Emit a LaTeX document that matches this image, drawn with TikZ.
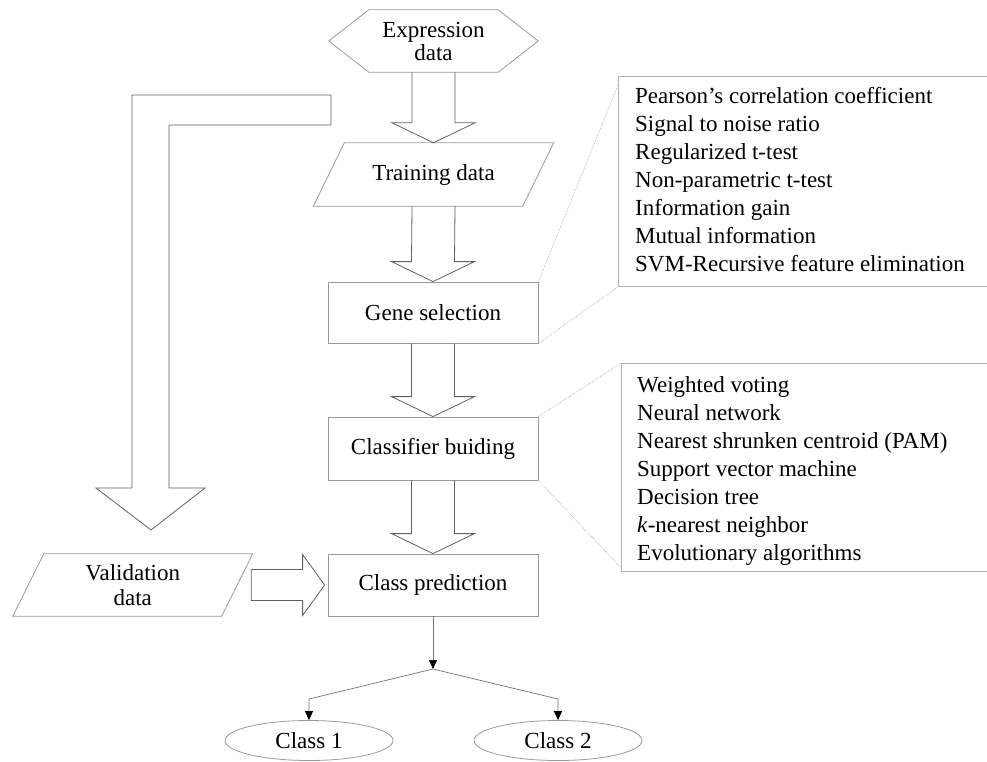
\documentclass[tikz,border=0pt]{standalone}
\usepackage{fontspec}
\setmainfont{Liberation Serif}
\usetikzlibrary{arrows.meta,calc,shapes.geometric}
\newcommand\blockdown[2]{%
  \draw[barrow] ($(#1)+(-21.5,0)$) -- ($(#2)+(-21.5,-20)$) -- ($(#2)+(-41.5,-20)$) -- (#2)
    -- ($(#2)+(41.5,-20)$) -- ($(#2)+(21.5,-20)$) -- ($(#1)+(21.5,0)$);}
\newcommand\blockright[2]{%
  \draw[barrow] ($(#1)+(0,-15.5)$) -- ($(#2)+(-22,-15.5)$) -- ($(#2)+(-22,-30.5)$) -- (#2)
    -- ($(#2)+(-22,30.5)$) -- ($(#2)+(-22,15.5)$) -- ($(#1)+(0,15.5)$) -- cycle;}
\newcommand\paraoutline[1]{%
  \draw[outline] ($(#1.south west)+(-15.5,0)$) -- ($(#1.north west)+(15.5,0)$)
    -- ($(#1.north east)+(15.5,0)$) -- ($(#1.south east)+(-15.5,0)$) -- cycle;}
\begin{document}
\begin{tikzpicture}[x=1pt,y=-1pt,
  font=\fontsize{23}{28}\selectfont,
  outline/.style={draw=black!40,line width=0.8pt},
  barrow/.style={draw=black!62,line width=0.8pt,line join=miter},
  shapebox/.style={inner sep=0pt,align=center,minimum width=209pt,minimum height=62pt},
  stepbox/.style={outline,rectangle,inner sep=0pt,minimum width=210pt,minimum height=62pt},
  methodbox/.style={draw=black!30,line width=0.8pt,rectangle,anchor=north west,inner sep=0pt},
  methods/.style={inner sep=0pt,align=left,anchor=north west},
  link/.style={draw=black!35,densely dotted,line width=0.6pt},
  flow/.style={draw=black!55,line width=0.7pt,-{Triangle[width=8pt,length=9pt,color=black,fill=black]}},
  classnode/.style={outline,ellipse,minimum width=168pt,minimum height=40pt,inner sep=0pt}
]
\useasboundingbox (0,0) rectangle (987,761);
\clip (0,0) rectangle (987,761);

% Expression data (hexagon)
\node[shapebox,font=\fontsize{23}{23}\selectfont] (exp) at (433.5,41) {Expression\\data};
\draw[outline] (exp.west) -- ($(exp.north west)+(40,0)$) -- ($(exp.north east)+(-40,0)$)
  -- (exp.east) -- ($(exp.south east)+(-40,0)$) -- ($(exp.south west)+(40,0)$) -- cycle;

% Training data (parallelogram)
\node[shapebox,minimum height=63pt] (train) at (433.5,174.5) {Training data};
\paraoutline{train}

% Process boxes
\node[stepbox,minimum height=61pt] (gene) at (433,312.5) {Gene selection};
\node[stepbox,minimum height=63pt] (cls) at (433,448.5) {Classifier buiding};
\node[stepbox] (pred) at (433,585) {Class prediction};

% Validation data (parallelogram)
\node[shapebox,font=\fontsize{23}{25}\selectfont,minimum width=208.5pt] (val) at (132.75,585) {Validation\\data};
\paraoutline{val}

% Class ellipses
\node[classnode] (c1) at (309,740.5) {Class 1};
\node[classnode] (c2) at (558,740.5) {Class 2};

% Method boxes
\node[methodbox,minimum width=420pt,minimum height=210pt] (m1) at (618,76) {};
\node[methods] (m1t) at (635,87.3) {Pearson's correlation coefficient\\
Signal to noise ratio\\
Regularized t-test\\
Non-parametric t-test\\
Information gain\\
Mutual information\\
SVM-Recursive feature elimination};
\node[methodbox,minimum width=420pt,minimum height=208pt] (m2) at (621,363) {};
\node[methods] (m2t) at (637,376.3) {Weighted voting\\
Neural network\\
Nearest shrunken centroid (PAM)\\
Support vector machine\\
Decision tree\\
\textit{k}-nearest neighbor\\
Evolutionary algorithms};

% Dotted links
\draw[link] (gene.north east) -- ($(m1.north west)+(0,9)$);
\draw[link] (gene.south east) -- (m1.south west);
\draw[link] (cls.north east) -- (m2.north west);
\draw[link] (cls.south east) -- ($(m2.south west)+(0,-4)$);

% Block arrows down the main column
\blockdown{exp.south}{train.north}
\blockdown{train.south}{gene.north}
\blockdown{gene.south}{cls.north}
\blockdown{cls.south}{pred.north}

% Validation -> Class prediction
\coordinate (vstart) at ($(val.east)+(14,0)$);
\coordinate (ptip) at ($(pred.west)+(-3,0)$);
\blockright{vstart}{ptip}

% Big L-shaped arrow from the data towards validation
\coordinate (ltip) at (151,530);
\draw[barrow] (331,95) -- (132,95) -- (132,488) -- (96,488) -- (ltip) -- (205,488)
  -- (169,488) -- (169,125) -- (331,125) -- cycle;

% Prediction -> classes
\coordinate (split) at (433,669);
\coordinate (b1) at (309,699);
\coordinate (b2) at (558,699);
\draw[flow] (pred.south) -- (split);
\draw[flow] (split) -- (b1) -- (c1.north);
\draw[flow] (split) -- (b2) -- (c2.north);
\end{tikzpicture}
\end{document}
